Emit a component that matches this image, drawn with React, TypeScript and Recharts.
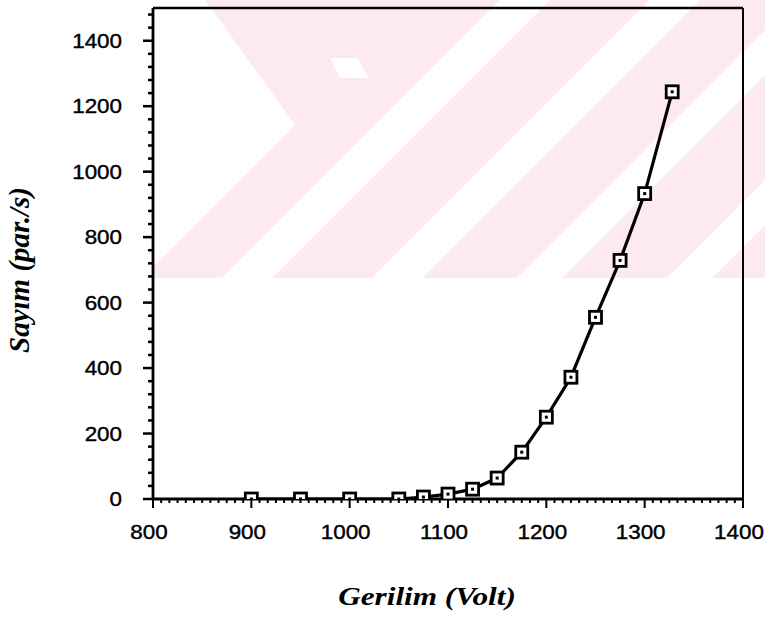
import { LineChart, Line, XAxis, YAxis, ReferenceLine } from "recharts";

// Measured data: counting rate vs. detector voltage
const VOLTAGES = [900, 950, 1000, 1050, 1075, 1100, 1125, 1150, 1175, 1200, 1225, 1250, 1275, 1300, 1328];
const COUNTS = [0, 0, 0, 0, 6, 15, 30, 64, 143, 250, 372, 555, 729, 933, 1244];

const X_LABELS = [800, 900, 1000, 1100, 1200, 1300, 1400];
const Y_LABELS = [0, 200, 400, 600, 800, 1000, 1200, 1400];

const data = VOLTAGES.map((v, i) => ({ volt: v, count: COUNTS[i] }));

// minor ticks: 12 per 100 V on x, every 40 on y
const xTicks: number[] = [];
for (let i = 0; i <= 72; i++) xTicks.push(800 + (i * 100) / 12);
const yTicks: number[] = [];
for (let v = 0; v <= 1480; v += 40) yTicks.push(v);

const isLabel = (list: number[], v: number) => list.some((l) => Math.abs(l - v) < 0.01);

const TICK_FONT = "'Liberation Sans', Arial, sans-serif";
const TITLE_FONT = "'Liberation Serif', 'Times New Roman', serif";
const PINK = "#fdeaee";

function XTick(props: any) {
  const { x, y, payload } = props;
  const major = isLabel(X_LABELS, payload.value);
  return (
    <g>
      <line x1={x} y1={y} x2={x} y2={y + (major ? 9 : 4)} stroke="#000" strokeWidth={2} />
      {major && (
        <text
          transform={`translate(${x - 4},${y + 40}) scale(1.12,1)`}
          textAnchor="middle"
          fontFamily={TICK_FONT}
          fontSize={20}
          fill="#000"
          stroke="#000"
          strokeWidth={0.4}
        >
          {payload.value}
        </text>
      )}
    </g>
  );
}

function YTick(props: any) {
  const { x, y, payload } = props;
  const major = isLabel(Y_LABELS, payload.value);
  return (
    <g>
      <line x1={x} y1={y} x2={x - (major ? 10 : 5)} y2={y} stroke="#000" strokeWidth={2.5} />
      {major && (
        <text
          transform={`translate(${x - 31},${y + 7}) scale(1.12,1)`}
          textAnchor="end"
          fontFamily={TICK_FONT}
          fontSize={20}
          fill="#000"
          stroke="#000"
          strokeWidth={0.4}
        >
          {payload.value}
        </text>
      )}
    </g>
  );
}

function SquareDot(props: any) {
  const { cx, cy, index } = props;
  if (cx == null || cy == null) return null;
  return (
    <g key={`dot-${index}`}>
      <rect x={cx - 6} y={cy - 6} width={12} height={12} fill="#fff" stroke="#000" strokeWidth={2.8} />
      <rect x={cx - 1.5} y={cy - 1.5} width={3} height={3} fill="#000" />
    </g>
  );
}

// faint watermark behind the plot
function Watermark() {
  return (
    <svg width={765} height={618} style={{ position: "absolute", left: 0, top: 0 }}>
      <defs>
        <clipPath id="wm">
          <rect x={152} y={0} width={613} height={278} />
        </clipPath>
      </defs>
      <g clipPath="url(#wm)">
        <rect x={152} y={0} width={613} height={278} fill={PINK} />
        <polygon points="152,0 205,0 295,125 152,268" fill="#fff" />
        <polygon points="500,0 550,0 272,278 222,278" fill="#fff" />
        <polygon points="650,0 700,0 422,278 372,278" fill="#fff" />
        <polygon points="795,0 840,0 562,278 517,278" fill="#fff" />
        <polygon points="945,0 990,0 712,278 667,278" fill="#fff" />
        <polygon points="330,58 358,58 368,78 340,78" fill="#fff" />
      </g>
      <text
        transform="translate(427,605) scale(1.2,1)"
        textAnchor="middle"
        fontFamily={TITLE_FONT}
        fontWeight="bold"
        fontStyle="italic"
        fontSize={26}
        fill="#000"
      >
        Gerilim (Volt)
      </text>
      <text
        transform="translate(29,270) rotate(-90)"
        textAnchor="middle"
        fontFamily={TITLE_FONT}
        fontWeight="bold"
        fontStyle="italic"
        fontSize={29}
        fill="#000"
      >
        Sayım (par./s)
      </text>
    </svg>
  );
}

export default function App() {
  return (
    <div style={{ position: "absolute", left: 0, top: 0, width: 765, height: 618, background: "#fff" }}>
      <Watermark />
      <div style={{ position: "absolute", left: 0, top: 0 }}>
        <LineChart width={765} height={618} data={data} margin={{ top: 8, right: 22, bottom: 89, left: 93 }}>
          <XAxis
            dataKey="volt"
            type="number"
            domain={[800, 1400]}
            ticks={xTicks}
            interval={0}
            height={30}
            tickSize={0}
            tickMargin={0}
            tickLine={false}
            tick={<XTick />}
            axisLine={{ stroke: "#000", strokeWidth: 2.8 }}
            allowDataOverflow
          />
          <YAxis
            dataKey="count"
            type="number"
            domain={[0, 1500]}
            ticks={yTicks}
            interval={0}
            width={60}
            tickSize={0}
            tickMargin={0}
            tickLine={false}
            tick={<YTick />}
            axisLine={{ stroke: "#000", strokeWidth: 2.8 }}
            allowDataOverflow
          />
          <ReferenceLine y={1500} stroke="#000" strokeWidth={2.5} />
          <ReferenceLine x={1400} stroke="#000" strokeWidth={2} />
          <Line
            dataKey="count"
            type="linear"
            stroke="#000"
            strokeWidth={3.2}
            dot={<SquareDot />}
            isAnimationActive={false}
          />
        </LineChart>
      </div>
    </div>
  );
}
